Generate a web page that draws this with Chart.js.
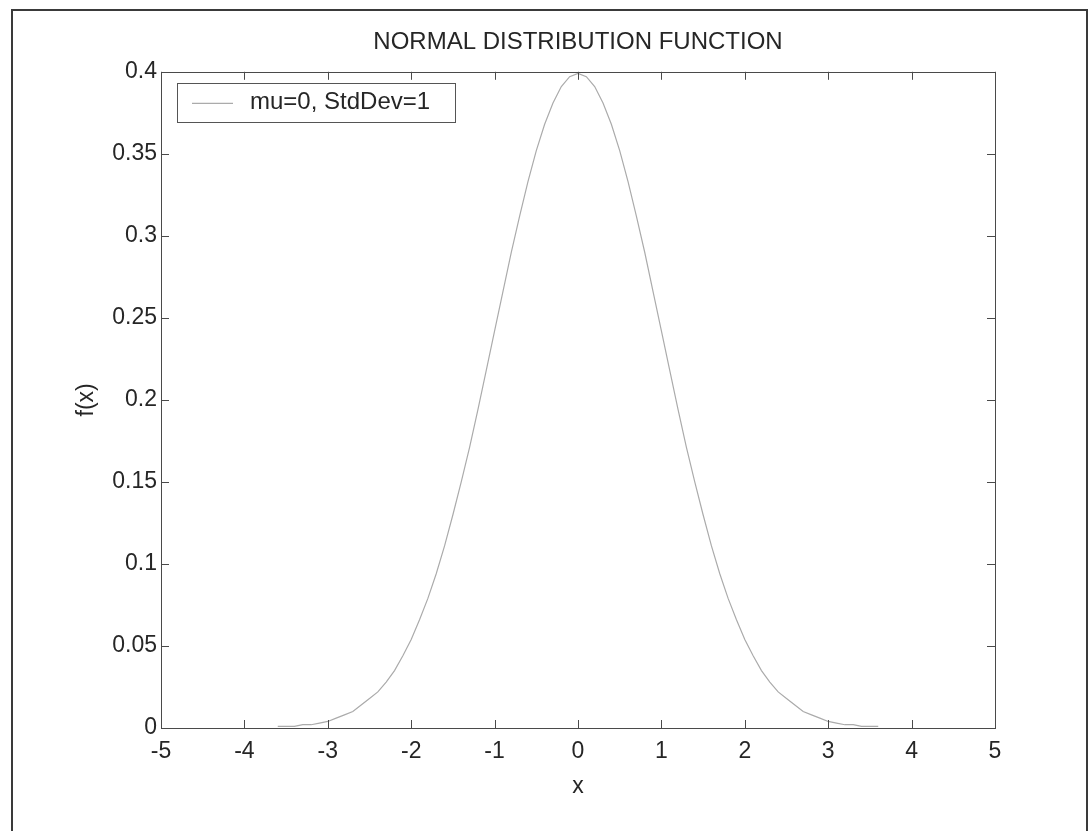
<!DOCTYPE html>
<html>
<head>
<meta charset="utf-8">
<title>Normal distribution function</title>
<script src="https://cdn.jsdelivr.net/npm/chart.js@4.4.0/dist/chart.umd.min.js"></script>
<style>
  html, body { margin: 0; padding: 0; background: #fff; }
  #wrap { position: relative; width: 1090px; height: 831px; overflow: hidden; }
  #frame { position: absolute; left: 11px; top: 9px; width: 1077px; height: 900px; border: 2px solid #3a3a3a; box-sizing: border-box; }
  #grafico { position: absolute; left: 0; top: 0; }
</style>
</head>
<body>
<div id="wrap">
  <div id="frame"></div>
  <canvas id="grafico" width="1090" height="831"></canvas>
</div>
<script>
// values (x from -3.6 to 3.6, step 0.1)
var xValues = [-3.6, -3.5, -3.4, -3.3, -3.2, -3.1, -3.0, -2.9, -2.8, -2.7, -2.6, -2.5, -2.4, -2.3, -2.2, -2.1,
    -2.0, -1.9, -1.8, -1.7, -1.6, -1.5, -1.4, -1.3, -1.2, -1.1, -1.0, -0.9, -0.8, -0.7, -0.6, -0.5, -0.4, -0.3,
    -0.2, -0.1, 0.0, 0.1, 0.2, 0.3, 0.4, 0.5, 0.6, 0.7, 0.8, 0.9, 1.0, 1.1, 1.2, 1.3, 1.4, 1.5, 1.6, 1.7, 1.8,
    1.9, 2.0, 2.1, 2.2, 2.3, 2.4, 2.5, 2.6, 2.7, 2.8, 2.9, 3.0, 3.1, 3.2, 3.3, 3.4, 3.5, 3.6];
var fValues = [0.001, 0.001, 0.001, 0.002, 0.002, 0.003, 0.004, 0.006, 0.008, 0.010, 0.014, 0.018, 0.022, 0.028,
    0.035, 0.044, 0.054, 0.066, 0.079, 0.094, 0.111, 0.130, 0.150, 0.171, 0.194, 0.218, 0.242, 0.266, 0.290,
    0.312, 0.333, 0.352, 0.368, 0.381, 0.391, 0.397, 0.399, 0.397, 0.391, 0.381, 0.368, 0.352, 0.333, 0.312,
    0.290, 0.266, 0.242, 0.218, 0.194, 0.171, 0.150, 0.130, 0.111, 0.094, 0.079, 0.066, 0.054, 0.044, 0.035,
    0.028, 0.022, 0.018, 0.014, 0.010, 0.008, 0.006, 0.004, 0.003, 0.002, 0.002, 0.001, 0.001, 0.001];
var xTickLabels = ['-5', '-4', '-3', '-2', '-1', '0', '1', '2', '3', '4', '5'];
var yTickLabels = ['0', '0.05', '0.1', '0.15', '0.2', '0.25', '0.3', '0.35', '0.4'];
var serieLabel = 'mu=0, StdDev=1';

var fuente = "'Liberation Sans', Arial, Helvetica, sans-serif";
var colorTexto = '#262626';
var colorEje = '#4a4a4a';
var colorCurva = '#ababab';

var puntos = xValues.map(function (x, i) { return { x: x, y: fValues[i] }; });

// inward ticks on all four sides, box, and legend box like the original
var cajaEjes = {
    id: 'cajaEjes',
    afterDraw: function (chart) {
        var ctx = chart.ctx, a = chart.chartArea;
        var sx = chart.scales.x, sy = chart.scales.y;
        ctx.save();
        ctx.strokeStyle = colorEje;
        ctx.lineWidth = 1;
        ctx.beginPath();
        sx.ticks.forEach(function (t) {
            var px = Math.round(sx.getPixelForValue(t.value)) + 0.5;
            ctx.moveTo(px, a.bottom); ctx.lineTo(px, a.bottom - 8);
            ctx.moveTo(px, a.top); ctx.lineTo(px, a.top + 8);
        });
        sy.ticks.forEach(function (t) {
            var py = Math.round(sy.getPixelForValue(t.value)) + 0.5;
            ctx.moveTo(a.left, py); ctx.lineTo(a.left + 8, py);
            ctx.moveTo(a.right, py); ctx.lineTo(a.right - 8, py);
        });
        ctx.stroke();
        ctx.strokeRect(Math.round(a.left) + 0.5, Math.round(a.top) + 0.5,
            Math.round(a.right - a.left), Math.round(a.bottom - a.top));

        // legend
        var lx = a.left + 16, ly = a.top + 11, lw = 278, lh = 39;
        ctx.fillStyle = '#fff';
        ctx.fillRect(lx, ly, lw, lh);
        ctx.strokeStyle = '#555';
        ctx.strokeRect(Math.round(lx) + 0.5, Math.round(ly) + 0.5, lw, lh);
        var ds = chart.data.datasets[0];
        ctx.strokeStyle = ds.borderColor;
        ctx.lineWidth = 1.2;
        ctx.beginPath();
        ctx.moveTo(lx + 15, ly + 20.5);
        ctx.lineTo(lx + 56, ly + 20.5);
        ctx.stroke();
        ctx.fillStyle = colorTexto;
        ctx.font = '24px ' + fuente;
        ctx.textBaseline = 'middle';
        ctx.textAlign = 'left';
        ctx.fillText(ds.label, lx + 73, ly + 20);
        ctx.restore();
    }
};

var contexto = document.getElementById('grafico').getContext('2d');
var myChart = new Chart(contexto, {
    type: 'scatter',
    data: {
        datasets: [{
            label: serieLabel,
            data: puntos,
            showLine: true,
            borderColor: colorCurva,
            borderWidth: 1.2,
            pointRadius: 0,
            tension: 0,
            fill: false
        }]
    },
    options: {
        responsive: false,
        animation: false,
        layout: { padding: { left: 0, right: 95, top: 0, bottom: 0 } },
        plugins: {
            legend: { display: false },
            tooltip: { enabled: false },
            title: {
                display: true,
                fullSize: false,
                text: 'NORMAL DISTRIBUTION FUNCTION',
                color: colorTexto,
                font: { family: fuente, size: 24, weight: 'normal', lineHeight: 1.2 },
                padding: { top: 28, bottom: 15 }
            }
        },
        scales: {
            x: {
                type: 'linear',
                min: -5,
                max: 5,
                grid: { display: false, drawTicks: false },
                border: { display: false },
                afterFit: function (s) { s.height = 103; },
                ticks: {
                    stepSize: 1,
                    padding: 10,
                    color: colorTexto,
                    font: { family: fuente, size: 23 },
                    maxRotation: 0,
                    callback: function (v, i) { return xTickLabels[i]; }
                },
                title: {
                    display: true,
                    text: 'x',
                    color: colorTexto,
                    font: { family: fuente, size: 23, lineHeight: 1.2 },
                    padding: { top: 31, bottom: 31 }
                }
            },
            y: {
                min: 0,
                max: 0.4,
                grid: { display: false, drawTicks: false },
                border: { display: false },
                afterFit: function (s) { s.width = 161; },
                ticks: {
                    stepSize: 0.05,
                    padding: 4,
                    color: colorTexto,
                    font: { family: fuente, size: 23 },
                    callback: function (v, i) { return yTickLabels[i]; }
                },
                title: {
                    display: true,
                    text: 'f(x)',
                    color: colorTexto,
                    font: { family: fuente, size: 23, lineHeight: 1.2 },
                    padding: { top: 73, bottom: 73 }
                }
            }
        }
    },
    plugins: [cajaEjes]
});
</script>
</body>
</html>
